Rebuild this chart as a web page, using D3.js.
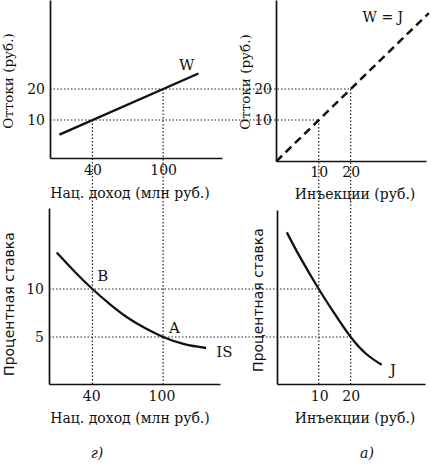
<!DOCTYPE html>
<html>
<head>
<meta charset="utf-8">
<script src="https://cdn.jsdelivr.net/npm/d3@7"></script>
<style>
  body { margin: 0; background: #fff; }
  svg { display: block; }
  .serif { font-family: "DejaVu Serif", "Liberation Serif", serif; fill: #111; }
  .sans { font-family: "DejaVu Sans", sans-serif; fill: #111; }
</style>
</head>
<body>
<div id="wrapper"></div>
<script>
// data
const incomeTicks = [40, 100]
const outflowTicks = [10, 20]
const injectionTicks = [10, 20]
const rateTicks = [5, 10]

// W: outflows as a function of national income
const wIncome = [12, 130]
const wOutflow = [5.3, 25]

// W = J line (45 degrees)
const wjLine = [-3.3, 44.5]

// IS curve: national income -> interest rate
const isIncome = [9.7, 25, 40, 55, 70, 85, 100, 118, 136.5]
const isRate = [13.8, 11.8, 10, 8.4, 7.0, 5.9, 5, 4.25, 3.85]

// J curve: injections -> interest rate
const jInjection = [0, 4, 10, 15, 20, 25, 29.7]
const jRate = [15.9, 13.4, 10, 7.4, 5, 3.2, 2.1]

// equilibrium pairs: income, outflow = injection, rate
const eqIncome = [40, 100]
const eqFlow = [10, 20]
const eqRate = [10, 5]

function drawChart() {
  const width = 431
  const height = 464

  const svg = d3.select("#wrapper")
    .append("svg")
      .attr("width", width)
      .attr("height", height)

  // scales
  const xIncome = d3.scaleLinear().domain([4, 150]).range([50, 222])
  const yOutL = d3.scaleLinear().domain([-2.26, 48.7]).range([158, 0])
  const yOutR = d3.scaleLinear().domain([-3.2, 48.7]).range([161, 0])
  const xInj = d3.scaleLinear().domain([-3.4, 43.6]).range([276, 426])
  const yRateL = d3.scaleLinear().domain([0.1, 18.44]).range([384, 208])
  const yRateR = d3.scaleLinear().domain([0.1, 18.23]).range([384, 210])

  const ink = "#111"

  // dotted guide lines
  const guides = svg.append("g")
      .attr("stroke", "#222")
      .attr("stroke-width", 1.2)
      .attr("stroke-dasharray", "1.5,2")
      .attr("fill", "none")

  eqIncome.forEach((inc, i) => {
    // horizontal top: from left y axis to W=J line
    guides.append("line")
      .attr("x1", xIncome.range()[0]).attr("x2", xInj(eqFlow[i]))
      .attr("y1", yOutL(eqFlow[i])).attr("y2", yOutL(eqFlow[i]))
    // vertical left: from W down to bottom axis
    guides.append("line")
      .attr("x1", xIncome(inc)).attr("x2", xIncome(inc))
      .attr("y1", yOutL(eqFlow[i])).attr("y2", yRateL.range()[0])
    // vertical right: from W=J down to bottom axis
    guides.append("line")
      .attr("x1", xInj(eqFlow[i])).attr("x2", xInj(eqFlow[i]))
      .attr("y1", yOutR(eqFlow[i])).attr("y2", yRateR.range()[0])
    // horizontal bottom: from left y axis to J curve
    guides.append("line")
      .attr("x1", 49).attr("x2", xInj(eqFlow[i]))
      .attr("y1", yRateL(eqRate[i])).attr("y2", yRateL(eqRate[i]))
  })

  // axes
  const styleAxis = (g) => {
    g.select(".domain").attr("stroke", ink).attr("stroke-width", 1.7)
    g.selectAll(".tick line").remove()
    g.selectAll(".tick text")
      .attr("class", "serif")
      .attr("font-size", 14)
      .attr("fill", ink)
    g.attr("font-family", null).attr("font-size", null)
  }

  svg.append("g").attr("transform", `translate(0,${yOutL.range()[0]})`)
    .call(d3.axisBottom(xIncome).tickValues(incomeTicks).tickSize(0).tickSizeOuter(0).tickPadding(7))
    .call(styleAxis)
  svg.append("g").attr("transform", `translate(${xIncome.range()[0]},0)`)
    .call(d3.axisLeft(yOutL).tickValues(outflowTicks).tickSize(0).tickSizeOuter(0).tickPadding(5))
    .call(styleAxis)

  svg.append("g").attr("transform", `translate(0,${yOutR.range()[0]})`)
    .call(d3.axisBottom(xInj).tickValues(injectionTicks).tickSize(0).tickSizeOuter(0).tickPadding(6))
    .call(styleAxis)
  svg.append("g").attr("transform", `translate(${xInj.range()[0]},0)`)
    .call(d3.axisLeft(yOutR).tickValues(outflowTicks).tickSize(0).tickSizeOuter(0).tickPadding(4))
    .call(styleAxis)

  svg.append("g").attr("transform", `translate(0,${yRateL.range()[0]})`)
    .call(d3.axisBottom(xIncome.copy().range([49, 220])).tickValues(incomeTicks).tickSize(0).tickSizeOuter(0).tickPadding(7))
    .call(styleAxis)
  svg.append("g").attr("transform", `translate(49,0)`)
    .call(d3.axisLeft(yRateL).tickValues(rateTicks).tickSize(0).tickSizeOuter(0).tickPadding(5))
    .call(styleAxis)

  svg.append("g").attr("transform", `translate(0,${yRateR.range()[0]})`)
    .call(d3.axisBottom(xInj.copy().range([277, 425])).tickValues(injectionTicks).tickSize(0).tickSizeOuter(0).tickPadding(7))
    .call(styleAxis)
  svg.append("g").attr("transform", `translate(277,0)`)
    .call(d3.axisLeft(yRateR).tickValues([]).tickSize(0).tickSizeOuter(0))
    .call(styleAxis)

  // curves
  const wLine = d3.line().x(d => xIncome(d[0])).y(d => yOutL(d[1]))
  svg.append("path")
    .attr("d", wLine(d3.zip(wIncome, wOutflow)))
    .attr("fill", "none").attr("stroke", ink).attr("stroke-width", 2.4)

  const wjPath = d3.line().x(d => xInj(d)).y(d => yOutR(d))
  svg.append("path")
    .attr("d", wjPath(wjLine))
    .attr("fill", "none").attr("stroke", ink).attr("stroke-width", 2.5)
    .attr("stroke-dasharray", "8,5")

  const isLine = d3.line().curve(d3.curveNatural)
    .x(d => xIncome(d[0])).y(d => yRateL(d[1]))
  svg.append("path")
    .attr("d", isLine(d3.zip(isIncome, isRate)))
    .attr("fill", "none").attr("stroke", ink).attr("stroke-width", 2.3)

  const jLine = d3.line().curve(d3.curveNatural)
    .x(d => xInj(d[0])).y(d => yRateR(d[1]))
  svg.append("path")
    .attr("d", jLine(d3.zip(jInjection, jRate)))
    .attr("fill", "none").attr("stroke", ink).attr("stroke-width", 2.3)

  // curve labels
  const label = (text, x, y, anchor = "middle", size = 15) =>
    svg.append("text").attr("class", "serif")
      .attr("x", x).attr("y", y).attr("dy", "0.35em")
      .attr("text-anchor", anchor).attr("font-size", size)
      .text(text)

  label("W", xIncome(120), yOutL(27.7))
  label("W = J", xInj(30.1), yOutR(43.2), "middle", 14)
  label("B", xIncome(48.8), yRateL(11.35))
  label("A", xIncome(109.7), yRateL(5.94))
  label("IS", xIncome(145.2), yRateL(3.44), "start")
  label("J", xInj(33.3), yRateR(1.56))

  // axis titles
  const title = (text, x, y, cls = "serif", rotate = false, size = 14) => {
    const t = svg.append("text").attr("class", cls)
      .attr("font-size", size).attr("text-anchor", "middle")
      .attr("dy", "0.35em")
    if (rotate) t.attr("transform", `translate(${x},${y}) rotate(-90)`)
    else t.attr("x", x).attr("y", y)
    t.text(text)
    return t
  }

  title("Нац. доход (млн руб.)", 130, 193)
  title("Инъекции (руб.)", 355, 194)
  title("Нац. доход (млн руб.)", 130, 418)
  title("Инъекции (руб.)", 355, 418)
  title("Оттоки (руб.)", 8, 81, "serif", true, 13.5)
  title("Оттоки (руб.)", 245, 82, "serif", true, 13.5)
  title("Процентная ставка", 9, 304, "sans", true, 14)
  title("Процентная ставка", 258, 300, "sans", true, 14)

  title("г)", 97, 453).attr("font-style", "italic")
  title("а)", 367, 453).attr("font-style", "italic")
}

drawChart()
</script>
</body>
</html>
